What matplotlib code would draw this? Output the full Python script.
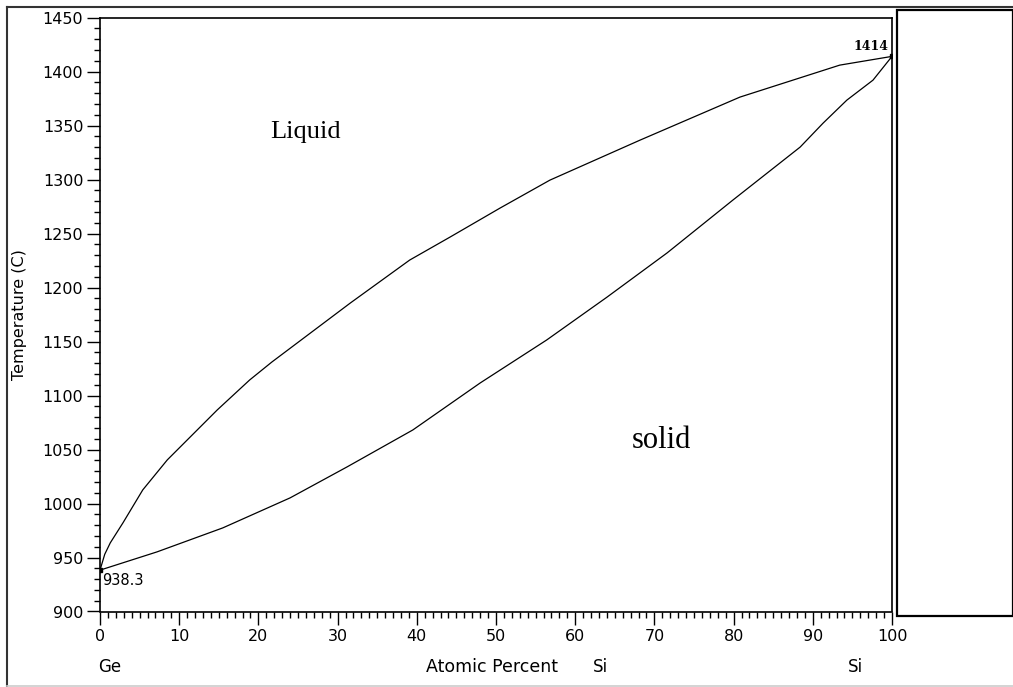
import matplotlib
matplotlib.use('Agg')
import matplotlib.pyplot as plt
from matplotlib.lines import Line2D
from matplotlib.patches import Rectangle

# liquidus and solidus (atomic percent Si, deg C)
liq_x = [0, 0.6, 1.3, 2.9, 5.4, 8.5, 14.8, 18.9, 21.7, 31.6, 39.1, 44.2, 50.5, 56.8, 68.2, 80.8, 93.4, 100]
liq_t = [938.3, 953, 963.6, 982.1, 1012.6, 1040.4, 1086.6, 1114.4, 1131, 1185.6, 1225.4, 1246.7, 1273.5,
         1299.4, 1336.5, 1376.3, 1405.9, 1414]
sol_x = [0, 7.2, 15.5, 24.0, 31.2, 39.5, 48.0, 56.4, 64.0, 71.6, 79.9, 88.4, 91.3, 94.3, 97.6, 100]
sol_t = [938.3, 955.2, 977.4, 1005.2, 1033.9, 1068.1, 1111.6, 1151.4, 1191, 1232, 1280.9,
         1330, 1352.2, 1373.5, 1392, 1414]
ge_melt = 938.3
si_melt = 1414

W, H = 1013, 687
fig = plt.figure(figsize=(W / 100, H / 100), dpi=100)

def fx(px):
    return px / W

def fy(py):
    return 1 - py / H

ax = fig.add_axes([fx(100), fy(611.5), fx(892) - fx(100), fy(17.5) - fy(611.5)])

ax.plot(liq_x, liq_t, color='black', lw=0.9)
ax.plot(sol_x, sol_t, color='black', lw=0.9)
ax.plot([0, 100], [ge_melt, si_melt], 's', color='black', ms=2.5)

ax.set_xlim(0, 100)
ax.set_ylim(900, 1450)
ax.set_xticks(range(0, 101, 10))
ax.set_xticks(range(0, 101, 1), minor=True)
ax.set_yticks(range(900, 1451, 50))
ax.set_yticks(range(900, 1451, 10), minor=True)

ax.tick_params(axis='both', which='major', direction='out', length=9.5, width=1, labelsize=11.5)
ax.tick_params(axis='both', which='minor', direction='out', length=4.5, width=1)
ax.tick_params(axis='y', which='major', pad=2.5)
ax.tick_params(axis='x', which='major', pad=3)

for s in ax.spines.values():
    s.set_linewidth(1.2)

ax.set_ylabel('Temperature (C)', fontsize=11.5, labelpad=11)

# region labels, placed by the pixel spots they hold in the picture
ax.text((306 - 100) / 7.92, 1450 - (132 - 17.5) / 1.0807, 'Liquid', family='Liberation Serif',
        fontsize=19, ha='center', va='center')
ax.text((661 - 100) / 7.92, 1450 - (441 - 17.5) / 1.0807, 'solid', family='Liberation Serif',
        fontsize=22, ha='center', va='center')
ax.text(99.6, si_melt + 3, str(si_melt), family='DejaVu Serif', fontweight='bold', fontsize=9,
        ha='right', va='bottom')
ax.text(0.3, ge_melt - 3, str(ge_melt), fontsize=10.5, ha='left', va='top')

fig.text(fx(98), fy(667), 'Ge', fontsize=12, ha='left', va='center')
fig.text(fx(492), fy(667), 'Atomic Percent', fontsize=12.5, ha='center', va='center')
fig.text(fx(593), fy(667), 'Si', fontsize=12, ha='left', va='center')
fig.text(fx(848), fy(667), 'Si', fontsize=12, ha='left', va='center')

# outer frame of the picture and the empty box on the right
fig.add_artist(Line2D([fx(7), fx(7)], [fy(7), fy(686)], color='#333333', lw=1.5))
fig.add_artist(Line2D([fx(7), 1], [fy(7), fy(7)], color='#333333', lw=1.5))
fig.add_artist(Line2D([fx(7), 1], [fy(685.5), fy(685.5)], color='#cccccc', lw=1.2))
fig.add_artist(Rectangle((fx(897), fy(616)), fx(1013) - fx(897), fy(10) - fy(616),
                         fill=False, ec='black', lw=1.6))

fig.savefig('out.png', dpi=100)
